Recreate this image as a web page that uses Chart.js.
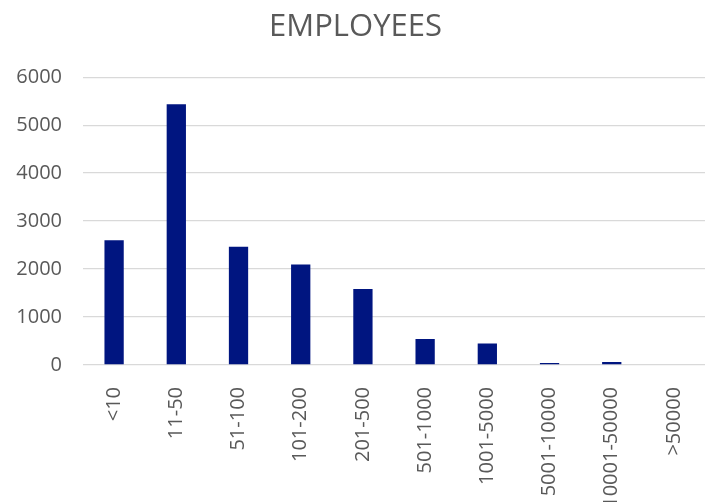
<!DOCTYPE html>
<html>
<head>
<meta charset="utf-8">
<script src="https://cdn.jsdelivr.net/npm/chart.js@4/dist/chart.umd.min.js"></script>
<style>
  html, body { margin: 0; padding: 0; overflow: hidden; background: #fff; }
  #wrap { width: 705px; height: 502px; overflow: hidden; }
</style>
</head>
<body>
<div id="wrap"><canvas id="employeesChart" width="712" height="505"></canvas></div>
<script>
// Data
const categories = ['<10', '11-50', '51-100', '101-200', '201-500', '501-1000', '1001-5000', '5001-10000', '10001-50000', '>50000'];
const employeeCounts = [2600, 5435, 2465, 2095, 1585, 540, 450, 40, 60, 0];
const yTicks = [0, 1000, 2000, 3000, 4000, 5000, 6000];

const textColor = '#595959';
const fontFamily = '"Open Sans", sans-serif';

const ctx = document.getElementById('employeesChart').getContext('2d');
new Chart(ctx, {
    type: 'bar',
    data: {
        labels: categories,
        datasets: [{
            label: 'Employees',
            data: employeeCounts,
            backgroundColor: '#001580',
            borderWidth: 0,
            barPercentage: 1,
            categoryPercentage: 0.31
        }]
    },
    options: {
        responsive: false,
        animation: false,
        layout: { padding: { left: 0, right: 1, top: 0, bottom: 0 } },
        plugins: {
            legend: { display: false },
            tooltip: { enabled: false },
            title: {
                display: true,
                text: 'EMPLOYEES',
                color: textColor,
                font: { family: fontFamily, size: 31, weight: 'normal' },
                padding: { top: 9, bottom: 31 }
            }
        },
        scales: {
            x: {
                grid: { display: false },
                border: { display: false },
                ticks: {
                    color: textColor,
                    font: { family: fontFamily, size: 20 },
                    minRotation: 90,
                    maxRotation: 90,
                    autoSkip: false,
                    padding: 14
                },
                afterFit: (scale) => { scale.height = 140; }
            },
            y: {
                min: yTicks[0],
                max: yTicks[yTicks.length - 1],
                afterBuildTicks: (scale) => { scale.ticks = yTicks.map(v => ({ value: v })); },
                grid: { color: '#d9d9d9', lineWidth: 1.3, drawTicks: false },
                border: { display: false },
                ticks: {
                    color: textColor,
                    font: { family: fontFamily, size: 20 },
                    padding: 21,
                    callback: (value) => String(value)
                },
                afterFit: (scale) => { scale.width = 83; }
            }
        }
    }
});
</script>
</body>
</html>
